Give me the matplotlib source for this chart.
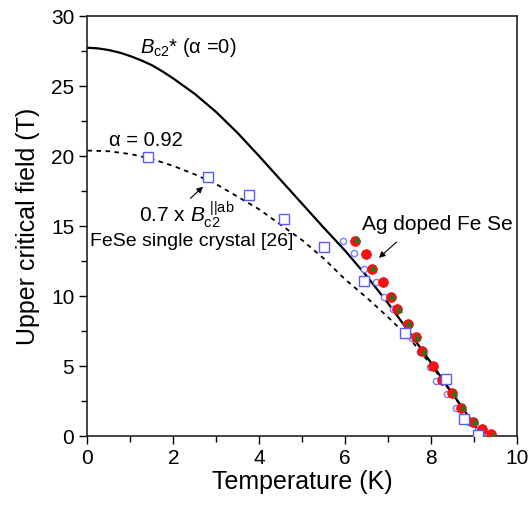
import matplotlib
matplotlib.use("Agg")
import matplotlib.pyplot as plt
from matplotlib.ticker import MultipleLocator

plt.rcParams['font.family'] = ['Liberation Sans', 'DejaVu Sans']
plt.rcParams['mathtext.fontset'] = 'custom'
plt.rcParams['mathtext.rm'] = 'Liberation Sans'
plt.rcParams['mathtext.it'] = 'Liberation Sans:italic'
plt.rcParams['mathtext.bf'] = 'Liberation Sans:bold'

# Bc2* (alpha = 0) curve (solid)
solid_T = [0, 0.25, 0.5, 0.75, 1.0, 1.25, 1.5, 1.75, 2.0, 2.5, 3.0, 3.5, 4.0, 4.5, 5.0, 5.5, 6.0, 6.5, 7.0, 7.5, 8.0, 8.5, 9.0, 9.2]
solid_B = [27.75, 27.7, 27.58, 27.4, 27.15, 26.85, 26.5, 26.05, 25.55, 24.45, 23.15, 21.65, 20.0, 18.3, 16.6, 14.9, 13.25, 11.45, 9.5, 7.4, 5.25, 3.05, 0.85, 0.0]

# alpha = 0.92 curve (dashed)
dash_T = [0, 0.5, 1.0, 1.5, 2.0, 2.5, 3.0, 3.5, 4.0, 4.5, 5.0, 5.5, 6.0, 6.5, 7.0, 7.5, 8.0, 8.5, 9.0, 9.2]
dash_B = [20.4, 20.35, 20.15, 19.8, 19.3, 18.7, 18.0, 17.1, 16.2, 15.1, 14.0, 12.7, 11.2, 9.9, 8.5, 7.0, 5.1, 3.0, 0.85, 0.0]

# FeSe single crystal 0.7 x Bc2||ab (open squares)
sq_T = [1.41, 2.81, 3.76, 4.58, 5.51, 6.45, 7.40, 8.36, 8.78, 9.10]
sq_B = [19.95, 18.5, 17.2, 15.5, 13.5, 11.07, 7.38, 4.07, 1.2, 0.08]

# Ag doped FeSe (red filled circles)
red_T = [6.24, 6.48, 6.62, 6.88, 7.07, 7.22, 7.46, 7.65, 7.80, 8.04, 8.27, 8.49, 8.70, 8.98, 9.19, 9.40]
red_B = [13.95, 13.0, 11.93, 11.02, 9.9, 9.05, 8.0, 7.05, 6.07, 5.0, 4.0, 3.05, 1.98, 1.02, 0.48, 0.12]

# Ag doped FeSe (green triangles)
tri_T = [6.28, 6.66, 7.10, 7.25, 7.50, 7.68, 7.84, 8.53, 8.74, 9.02, 9.45]
tri_B = [14.1, 12.0, 10.0, 9.1, 8.05, 7.1, 6.1, 3.1, 2.05, 1.05, 0.1]

# Ag doped FeSe (small open circles)
oc_T = [5.95, 6.21, 6.45, 6.71, 6.90, 7.11, 7.43, 7.56, 7.75, 7.98, 8.12, 8.37, 8.58, 8.88, 9.10, 9.33]
oc_B = [13.95, 13.05, 11.93, 11.02, 9.9, 9.05, 8.0, 6.98, 6.02, 4.95, 3.95, 3.0, 1.98, 1.0, 0.45, 0.12]

x_ticks = [0, 2, 4, 6, 8, 10]
y_ticks = [0, 5, 10, 15, 20, 25, 30]

fig = plt.figure(figsize=(5.3, 5.07), dpi=100)
ax = fig.add_axes([0.165, 0.140, 0.810, 0.828])

ax.plot(solid_T, solid_B, color='black', lw=1.6, zorder=2)
ax.plot(dash_T, dash_B, color='black', lw=1.3, ls=(0, (2.5, 2.5)), zorder=2)

ax.plot(sq_T, sq_B, ls='none', marker='s', ms=6.5, mfc='white', mec='#5a5aff', mew=1.0, zorder=4)
ax.plot(oc_T, oc_B, ls='none', marker='o', ms=4.5, mfc='white', mec='#7a7aff', mew=1.0, zorder=3)
ax.plot(red_T, red_B, ls='none', marker='o', ms=7, mfc='#ff1010', mec='#ee0000', mew=0.5, zorder=3)
ax.plot(tri_T, tri_B, ls='none', marker='^', ms=4.5, mfc='#1f7a1f', mec='#1f7a1f', mew=0.5, zorder=3.5)

ax.set_xlim(0, 10)
ax.set_ylim(0, 30)
ax.set_xticks(x_ticks)
ax.set_yticks(y_ticks)
ax.xaxis.set_minor_locator(MultipleLocator(1))
ax.yaxis.set_minor_locator(MultipleLocator(2.5))
ax.tick_params(which='both', direction='out', top=False, right=False, labelsize=15, width=1.0)
ax.tick_params(which='major', length=6)
ax.tick_params(which='minor', length=4)
for s in ax.spines.values():
    s.set_linewidth(1.2)
    s.set_color('#222222')

ax.set_xlabel('Temperature (K)', fontsize=18, labelpad=1)
ax.set_ylabel('Upper critical field (T)', fontsize=18, labelpad=8)

ax.text(1.22, 27.75, r'$B_{\mathrm{c2}}$* (α =0)', fontsize=14.5, va='center', ha='left')
ax.text(0.5, 21.1, 'α = 0.92', fontsize=14.5, va='center', ha='left')
ax.text(1.2, 15.8, r'0.7 x $B_{\mathrm{c2}}^{\ \mathrm{||ab}}$', fontsize=15, va='center', ha='left')
ax.text(0.07, 13.9, 'FeSe single crystal [26]', fontsize=14, va='center', ha='left')
ax.text(6.4, 15.1, 'Ag doped Fe Se', fontsize=15, va='center', ha='left')

ax.annotate('', xy=(2.74, 17.95), xytext=(2.35, 16.85),
            arrowprops=dict(arrowstyle='-|>', color='black', lw=0.8, mutation_scale=9))
ax.annotate('', xy=(6.74, 12.6), xytext=(7.25, 14.0),
            arrowprops=dict(arrowstyle='-|>', color='black', lw=0.8, mutation_scale=9))

fig.savefig('out.png', dpi=100)
